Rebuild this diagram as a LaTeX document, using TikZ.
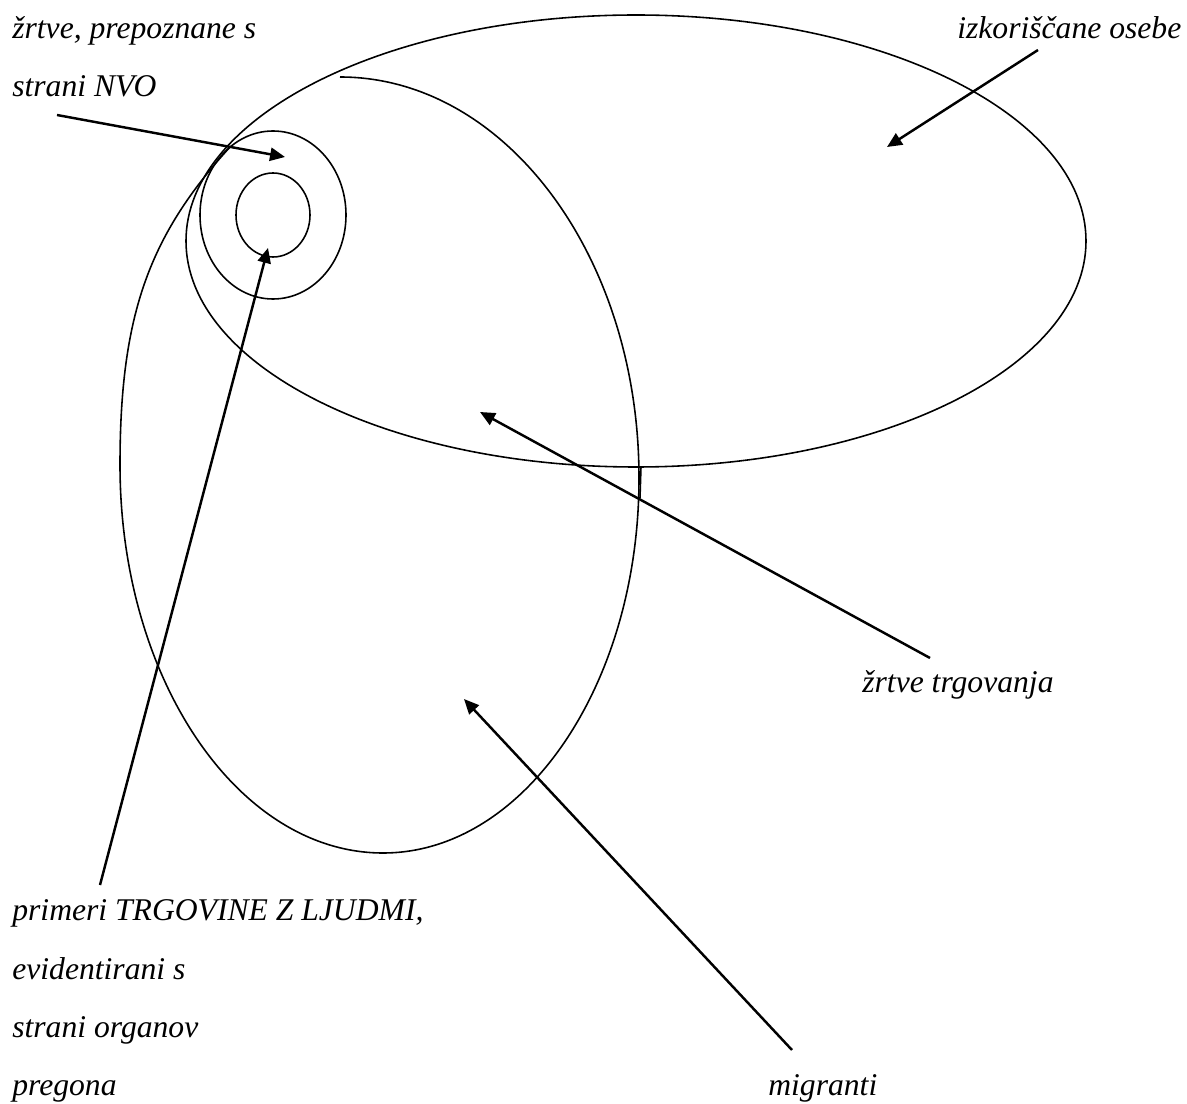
\documentclass[tikz,border=0pt]{standalone}
\usepackage{fontspec}
\setmainfont{Liberation Serif}
\usetikzlibrary{arrows.meta}

\begin{document}
\begin{tikzpicture}[x=0.02cm,y=-0.02cm,
    set/.style={line width=0.9pt},
    arr/.style={line width=1.4pt,-{Triangle[length=8.5pt,width=7.5pt]}},
    lbl/.style={font=\fontsize{18}{33}\selectfont\itshape,inner sep=0pt,anchor=base west}]
    % \draw[help lines,step=100] (0,0) grid (1187,1104);
    \useasboundingbox (0,0) rectangle (1187,1104);

    % izkoriscane osebe
    \draw[set] (636,241) ellipse [x radius=450,y radius=226];
    % migranti (odprta krivulja)
    \draw[set] (340,77) .. controls (505,77) and (639,256) .. (639,478)
        .. controls (639,685) and (524,853) .. (383,853)
        .. controls (238,853) and (120,679) .. (120,465)
        .. controls (120,315) and (149,236) .. (230,147);
    \draw[set] (641,467) -- (640,498);
    % NVO in organi pregona
    \draw[set] (273,215) ellipse [x radius=73,y radius=84];
    \draw[set] (273,215) ellipse [x radius=37,y radius=42];

    \node[lbl] (nvo1) at (12,39) {žrtve, prepoznane s};
    \node[lbl] (nvo2) at (12,97) {strani NVO};
    \node[lbl] (izkor) at (957,39) {izkoriščane osebe};
    \node[lbl] (trgov) at (862,692) {žrtve trgovanja};
    \node[lbl] (migr) at (768,1095) {migranti};
    \node[lbl] (org1) at (12,920) {primeri TRGOVINE Z LJUDMI,};
    \node[lbl] (org2) at (12,979) {evidentirani s};
    \node[lbl] (org3) at (12,1037) {strani organov};
    \node[lbl] (org4) at (12,1095) {pregona};

    \coordinate (nvoA) at (57,115);   \coordinate (nvoB) at (285,157);
    \coordinate (izkorA) at (1038,50); \coordinate (izkorB) at (887,147);
    \coordinate (trgovA) at (930,658); \coordinate (trgovB) at (480,412);
    \coordinate (migrA) at (792,1050); \coordinate (migrB) at (464,699);
    \coordinate (orgA) at (100,885);  \coordinate (orgB) at (268,248);

    \draw[arr] (nvoA) -- (nvoB);
    \draw[arr] (izkorA) -- (izkorB);
    \draw[arr] (trgovA) -- (trgovB);
    \draw[arr] (migrA) -- (migrB);
    \draw[arr] (orgA) -- (orgB);
\end{tikzpicture}
\end{document}
